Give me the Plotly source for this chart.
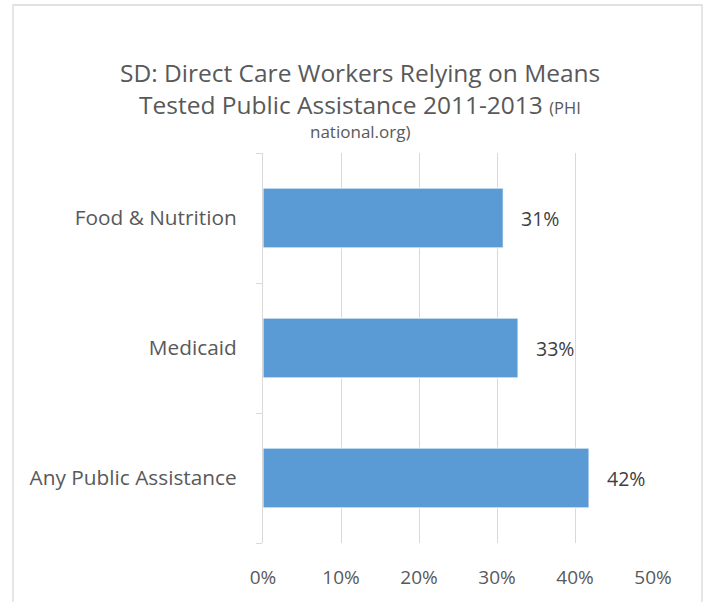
import plotly.graph_objects as go

categories = ["Food & Nutrition", "Medicaid", "Any Public Assistance"]
values = [0.308, 0.327, 0.418]
labels = ["31%", "33%", "42%"]
x_ticks = [0, 0.1, 0.2, 0.3, 0.4, 0.5]
x_tick_text = ["0%", "10%", "20%", "30%", "40%", "50%"]

W, H = 709, 602
L, R, T, B = 263, 653, 153, 543
pw, ph = R - L, B - T

FONT = "'Open Sans', sans-serif"

fig = go.Figure()
fig.add_trace(go.Bar(
    y=categories, x=values, orientation="h",
    marker=dict(color="#5B9BD5", line=dict(color="white", width=1)),
    width=0.46, hoverinfo="skip",
))

annotations = []
for c, v, t in zip(categories, values, labels):
    annotations.append(dict(x=v, y=c, xref="x", yref="y", text=t, showarrow=False,
                            xanchor="left", xshift=16,
                            font=dict(family=FONT, size=19.5, color="#404040")))

def px_x(p):
    return (p - L) / pw

def px_y(p):
    return (B - p) / ph

title_lines = [
    ("SD: Direct Care Workers Relying on Means", 72, 24.5),
    ("Tested Public Assistance 2011-2013 <span style='font-size:16.5px'>(PHI</span>", 104, 24.5),
    ("national.org)", 131, 17),
]
for txt, yc, sz in title_lines:
    annotations.append(dict(x=px_x(360), y=px_y(yc), xref="paper", yref="paper",
                            text=txt, showarrow=False, xanchor="center", yanchor="middle",
                            font=dict(family=FONT, size=sz, color="#595959")))

fig.update_layout(
    width=W, height=H,
    margin=dict(l=L, r=W - R, t=T, b=H - B, pad=0),
    paper_bgcolor="white", plot_bgcolor="white",
    showlegend=False,
    annotations=annotations,
    xaxis=dict(range=[0, 0.5], tickvals=x_ticks, ticktext=x_tick_text,
               showgrid=True, gridcolor="#D9D9D9", gridwidth=1.3,
               zeroline=False, showline=False, ticks="",
               ticklabelstandoff=21,
               tickfont=dict(family=FONT, size=19, color="#595959")),
    yaxis=dict(categoryorder="array", categoryarray=categories[::-1],
               showgrid=False, zeroline=False,
               showline=True, linecolor="#D9D9D9", linewidth=1.3,
               ticks="outside", tickson="boundaries", ticklen=6, tickcolor="#D9D9D9",
               ticklabelstandoff=21,
               tickfont=dict(family=FONT, size=20.8, color="#595959")),
    shapes=[dict(type="rect", xref="paper", yref="paper",
                 x0=px_x(13), x1=px_x(702), y0=px_y(640), y1=px_y(5),
                 line=dict(color="#D9D9D9", width=1.3), fillcolor="rgba(0,0,0,0)",
                 layer="below")],
)

fig.write_html("out.html", config={"displayModeBar": False},
               post_script="document.body.style.margin='0';")
